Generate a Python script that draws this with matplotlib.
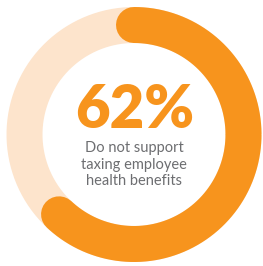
import numpy as np
import matplotlib
matplotlib.use("Agg")
import matplotlib.pyplot as plt

# Share of respondents
share = 62
label_pct = "62%"
label_lines = ["Do not support", "taxing employee", "health benefits"]

orange = "#f7941d"
peach = "#fde4cc"
grey = "#6d6e71"

W, H = 263, 266
fig = plt.figure(figsize=(W / 100, H / 100), dpi=100)
ax = fig.add_axes([0, 0, 1, 1])
ax.set_xlim(0, W)
ax.set_ylim(H, 0)
ax.axis("off")

cx, cy = 134, 134.5
r_mid = 109.5
ring_w = 36 * 72 / 100  # px -> points

# background ring
t = np.linspace(0, 2 * np.pi, 400)
ax.plot(cx + r_mid * np.cos(t), cy + r_mid * np.sin(t), color=peach,
        lw=ring_w, solid_capstyle="butt")

# value arc, clockwise from the top
a = np.linspace(0, share / 100 * 2 * np.pi, 300)
ax.plot(cx + r_mid * np.sin(a), cy - r_mid * np.cos(a), color=orange,
        lw=ring_w, solid_capstyle="round")

ax.text(cx + 1, 111, label_pct, ha="center", va="center", color=orange,
        fontsize=43, fontweight="heavy", family="Lato")
for i, line in enumerate(label_lines):
    ax.text(cx, 148 + i * 16.5, line, ha="center", va="center", color=grey,
            fontsize=10.5, family="Lato")

fig.savefig("out.png", dpi=100)
